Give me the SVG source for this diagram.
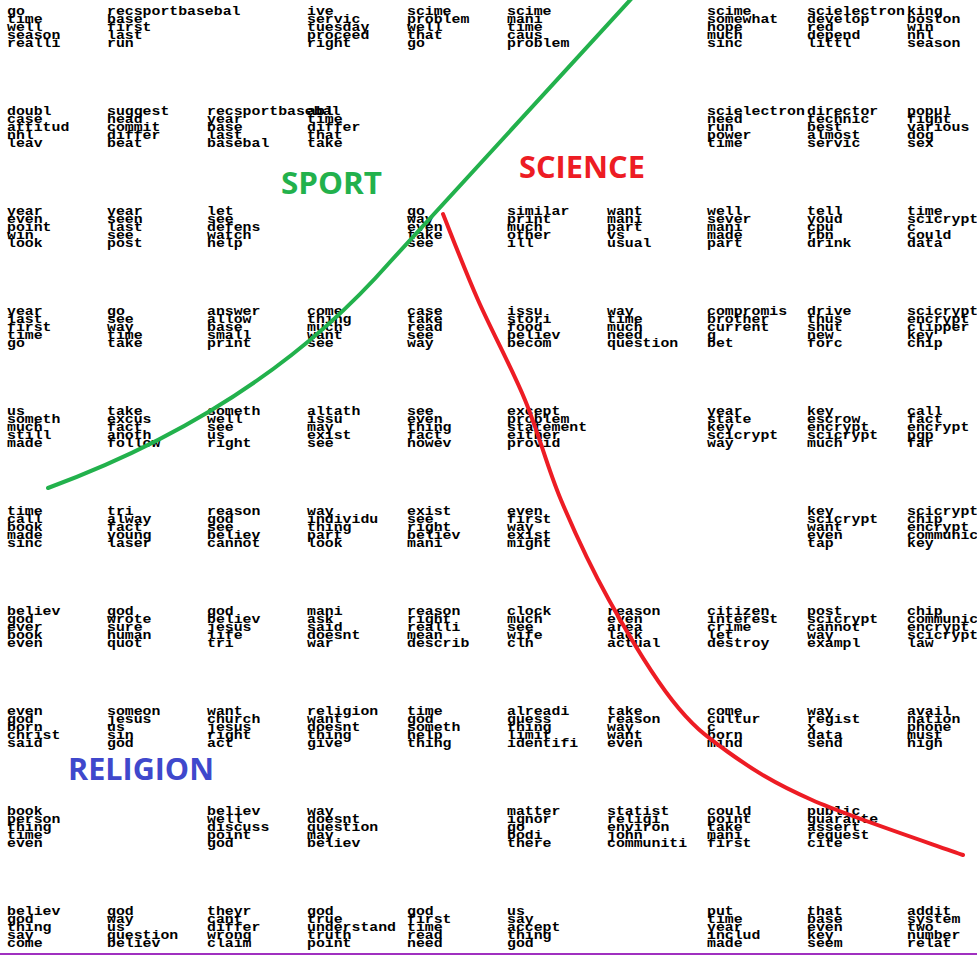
<svg xmlns="http://www.w3.org/2000/svg" width="977" height="957" viewBox="0 0 977 957">
<style>
.w{font-family:"Liberation Mono","Courier New",monospace;font-size:12px;font-weight:bold;fill:#000}
.lbl{font-family:"Open Sans","Noto Sans",sans-serif;font-weight:bold;font-size:30px}
</style>
<rect width="977" height="957" fill="#fff"/>
<g id="cells">
<g id="c0_0" transform="translate(7,15) scale(1.236,1)"><text class="w"><tspan x="0" y="0">go</tspan><tspan x="0" y="8">time</tspan><tspan x="0" y="16">well</tspan><tspan x="0" y="24">season</tspan><tspan x="0" y="32">realli</tspan></text></g>
<g id="c1_0" transform="translate(107,15) scale(1.236,1)"><text class="w"><tspan x="0" y="0">recsportbasebal</tspan><tspan x="0" y="8">base</tspan><tspan x="0" y="16">first</tspan><tspan x="0" y="24">last</tspan><tspan x="0" y="32">run</tspan></text></g>
<g id="c3_0" transform="translate(307,15) scale(1.236,1)"><text class="w"><tspan x="0" y="0">ive</tspan><tspan x="0" y="8">servic</tspan><tspan x="0" y="16">tuesday</tspan><tspan x="0" y="24">proceed</tspan><tspan x="0" y="32">right</tspan></text></g>
<g id="c4_0" transform="translate(407,15) scale(1.236,1)"><text class="w"><tspan x="0" y="0">scime</tspan><tspan x="0" y="8">problem</tspan><tspan x="0" y="16">well</tspan><tspan x="0" y="24">that</tspan><tspan x="0" y="32">go</tspan></text></g>
<g id="c5_0" transform="translate(507,15) scale(1.236,1)"><text class="w"><tspan x="0" y="0">scime</tspan><tspan x="0" y="8">mani</tspan><tspan x="0" y="16">time</tspan><tspan x="0" y="24">caus</tspan><tspan x="0" y="32">problem</tspan></text></g>
<g id="c7_0" transform="translate(707,15) scale(1.236,1)"><text class="w"><tspan x="0" y="0">scime</tspan><tspan x="0" y="8">somewhat</tspan><tspan x="0" y="16">hope</tspan><tspan x="0" y="24">much</tspan><tspan x="0" y="32">sinc</tspan></text></g>
<g id="c8_0" transform="translate(807,15) scale(1.236,1)"><text class="w"><tspan x="0" y="0">scielectron</tspan><tspan x="0" y="8">develop</tspan><tspan x="0" y="16">red</tspan><tspan x="0" y="24">depend</tspan><tspan x="0" y="32">littl</tspan></text></g>
<g id="c9_0" transform="translate(907,15) scale(1.236,1)"><text class="w"><tspan x="0" y="0">king</tspan><tspan x="0" y="8">boston</tspan><tspan x="0" y="16">win</tspan><tspan x="0" y="24">nhl</tspan><tspan x="0" y="32">season</tspan></text></g>

<g id="c0_1" transform="translate(7,115) scale(1.236,1)"><text class="w"><tspan x="0" y="0">doubl</tspan><tspan x="0" y="8">case</tspan><tspan x="0" y="16">attitud</tspan><tspan x="0" y="24">nhl</tspan><tspan x="0" y="32">leav</tspan></text></g>
<g id="c1_1" transform="translate(107,115) scale(1.236,1)"><text class="w"><tspan x="0" y="0">suggest</tspan><tspan x="0" y="8">head</tspan><tspan x="0" y="16">commit</tspan><tspan x="0" y="24">differ</tspan><tspan x="0" y="32">beat</tspan></text></g>
<g id="c2_1" transform="translate(207,115) scale(1.236,1)"><text class="w"><tspan x="0" y="0">recsportbasebal</tspan><tspan x="0" y="8">year</tspan><tspan x="0" y="16">base</tspan><tspan x="0" y="24">last</tspan><tspan x="0" y="32">basebal</tspan></text></g>
<g id="c3_1" transform="translate(307,115) scale(1.236,1)"><text class="w"><tspan x="0" y="0">abl</tspan><tspan x="0" y="8">time</tspan><tspan x="0" y="16">differ</tspan><tspan x="0" y="24">that</tspan><tspan x="0" y="32">take</tspan></text></g>
<g id="c7_1" transform="translate(707,115) scale(1.236,1)"><text class="w"><tspan x="0" y="0">scielectron</tspan><tspan x="0" y="8">need</tspan><tspan x="0" y="16">run</tspan><tspan x="0" y="24">power</tspan><tspan x="0" y="32">time</tspan></text></g>
<g id="c8_1" transform="translate(807,115) scale(1.236,1)"><text class="w"><tspan x="0" y="0">director</tspan><tspan x="0" y="8">technic</tspan><tspan x="0" y="16">best</tspan><tspan x="0" y="24">almost</tspan><tspan x="0" y="32">servic</tspan></text></g>
<g id="c9_1" transform="translate(907,115) scale(1.236,1)"><text class="w"><tspan x="0" y="0">popul</tspan><tspan x="0" y="8">fight</tspan><tspan x="0" y="16">various</tspan><tspan x="0" y="24">dog</tspan><tspan x="0" y="32">sex</tspan></text></g>

<g id="c0_2" transform="translate(7,215) scale(1.236,1)"><text class="w"><tspan x="0" y="0">year</tspan><tspan x="0" y="8">even</tspan><tspan x="0" y="16">point</tspan><tspan x="0" y="24">win</tspan><tspan x="0" y="32">look</tspan></text></g>
<g id="c1_2" transform="translate(107,215) scale(1.236,1)"><text class="w"><tspan x="0" y="0">year</tspan><tspan x="0" y="8">seen</tspan><tspan x="0" y="16">last</tspan><tspan x="0" y="24">see</tspan><tspan x="0" y="32">post</tspan></text></g>
<g id="c2_2" transform="translate(207,215) scale(1.236,1)"><text class="w"><tspan x="0" y="0">let</tspan><tspan x="0" y="8">see</tspan><tspan x="0" y="16">defens</tspan><tspan x="0" y="24">watch</tspan><tspan x="0" y="32">help</tspan></text></g>
<g id="c4_2" transform="translate(407,215) scale(1.236,1)"><text class="w"><tspan x="0" y="0">go</tspan><tspan x="0" y="8">way</tspan><tspan x="0" y="16">even</tspan><tspan x="0" y="24">take</tspan><tspan x="0" y="32">see</tspan></text></g>
<g id="c5_2" transform="translate(507,215) scale(1.236,1)"><text class="w"><tspan x="0" y="0">similar</tspan><tspan x="0" y="8">print</tspan><tspan x="0" y="16">much</tspan><tspan x="0" y="24">other</tspan><tspan x="0" y="32">ill</tspan></text></g>
<g id="c6_2" transform="translate(607,215) scale(1.236,1)"><text class="w"><tspan x="0" y="0">want</tspan><tspan x="0" y="8">mani</tspan><tspan x="0" y="16">part</tspan><tspan x="0" y="24">vs</tspan><tspan x="0" y="32">usual</tspan></text></g>
<g id="c7_2" transform="translate(707,215) scale(1.236,1)"><text class="w"><tspan x="0" y="0">well</tspan><tspan x="0" y="8">sever</tspan><tspan x="0" y="16">mani</tspan><tspan x="0" y="24">made</tspan><tspan x="0" y="32">part</tspan></text></g>
<g id="c8_2" transform="translate(807,215) scale(1.236,1)"><text class="w"><tspan x="0" y="0">tell</tspan><tspan x="0" y="8">youd</tspan><tspan x="0" y="16">cpu</tspan><tspan x="0" y="24">rbn</tspan><tspan x="0" y="32">drink</tspan></text></g>
<g id="c9_2" transform="translate(907,215) scale(1.236,1)"><text class="w"><tspan x="0" y="0">time</tspan><tspan x="0" y="8">scicrypt</tspan><tspan x="0" y="16">c</tspan><tspan x="0" y="24">could</tspan><tspan x="0" y="32">data</tspan></text></g>

<g id="c0_3" transform="translate(7,315) scale(1.236,1)"><text class="w"><tspan x="0" y="0">year</tspan><tspan x="0" y="8">last</tspan><tspan x="0" y="16">first</tspan><tspan x="0" y="24">time</tspan><tspan x="0" y="32">go</tspan></text></g>
<g id="c1_3" transform="translate(107,315) scale(1.236,1)"><text class="w"><tspan x="0" y="0">go</tspan><tspan x="0" y="8">see</tspan><tspan x="0" y="16">way</tspan><tspan x="0" y="24">time</tspan><tspan x="0" y="32">take</tspan></text></g>
<g id="c2_3" transform="translate(207,315) scale(1.236,1)"><text class="w"><tspan x="0" y="0">answer</tspan><tspan x="0" y="8">allow</tspan><tspan x="0" y="16">base</tspan><tspan x="0" y="24">small</tspan><tspan x="0" y="32">print</tspan></text></g>
<g id="c3_3" transform="translate(307,315) scale(1.236,1)"><text class="w"><tspan x="0" y="0">come</tspan><tspan x="0" y="8">thing</tspan><tspan x="0" y="16">much</tspan><tspan x="0" y="24">want</tspan><tspan x="0" y="32">see</tspan></text></g>
<g id="c4_3" transform="translate(407,315) scale(1.236,1)"><text class="w"><tspan x="0" y="0">case</tspan><tspan x="0" y="8">take</tspan><tspan x="0" y="16">read</tspan><tspan x="0" y="24">see</tspan><tspan x="0" y="32">way</tspan></text></g>
<g id="c5_3" transform="translate(507,315) scale(1.236,1)"><text class="w"><tspan x="0" y="0">issu</tspan><tspan x="0" y="8">stori</tspan><tspan x="0" y="16">food</tspan><tspan x="0" y="24">believ</tspan><tspan x="0" y="32">becom</tspan></text></g>
<g id="c6_3" transform="translate(607,315) scale(1.236,1)"><text class="w"><tspan x="0" y="0">way</tspan><tspan x="0" y="8">time</tspan><tspan x="0" y="16">much</tspan><tspan x="0" y="24">need</tspan><tspan x="0" y="32">question</tspan></text></g>
<g id="c7_3" transform="translate(707,315) scale(1.236,1)"><text class="w"><tspan x="0" y="0">compromis</tspan><tspan x="0" y="8">brother</tspan><tspan x="0" y="16">current</tspan><tspan x="0" y="24">g</tspan><tspan x="0" y="32">bet</tspan></text></g>
<g id="c8_3" transform="translate(807,315) scale(1.236,1)"><text class="w"><tspan x="0" y="0">drive</tspan><tspan x="0" y="8">thus</tspan><tspan x="0" y="16">shut</tspan><tspan x="0" y="24">new</tspan><tspan x="0" y="32">forc</tspan></text></g>
<g id="c9_3" transform="translate(907,315) scale(1.236,1)"><text class="w"><tspan x="0" y="0">scicrypt</tspan><tspan x="0" y="8">encrypt</tspan><tspan x="0" y="16">clipper</tspan><tspan x="0" y="24">key</tspan><tspan x="0" y="32">chip</tspan></text></g>

<g id="c0_4" transform="translate(7,415) scale(1.236,1)"><text class="w"><tspan x="0" y="0">us</tspan><tspan x="0" y="8">someth</tspan><tspan x="0" y="16">much</tspan><tspan x="0" y="24">still</tspan><tspan x="0" y="32">made</tspan></text></g>
<g id="c1_4" transform="translate(107,415) scale(1.236,1)"><text class="w"><tspan x="0" y="0">take</tspan><tspan x="0" y="8">excus</tspan><tspan x="0" y="16">fact</tspan><tspan x="0" y="24">anoth</tspan><tspan x="0" y="32">follow</tspan></text></g>
<g id="c2_4" transform="translate(207,415) scale(1.236,1)"><text class="w"><tspan x="0" y="0">someth</tspan><tspan x="0" y="8">well</tspan><tspan x="0" y="16">see</tspan><tspan x="0" y="24">us</tspan><tspan x="0" y="32">right</tspan></text></g>
<g id="c3_4" transform="translate(307,415) scale(1.236,1)"><text class="w"><tspan x="0" y="0">altath</tspan><tspan x="0" y="8">issu</tspan><tspan x="0" y="16">may</tspan><tspan x="0" y="24">exist</tspan><tspan x="0" y="32">see</tspan></text></g>
<g id="c4_4" transform="translate(407,415) scale(1.236,1)"><text class="w"><tspan x="0" y="0">see</tspan><tspan x="0" y="8">even</tspan><tspan x="0" y="16">thing</tspan><tspan x="0" y="24">fact</tspan><tspan x="0" y="32">howev</tspan></text></g>
<g id="c5_4" transform="translate(507,415) scale(1.236,1)"><text class="w"><tspan x="0" y="0">except</tspan><tspan x="0" y="8">problem</tspan><tspan x="0" y="16">statement</tspan><tspan x="0" y="24">either</tspan><tspan x="0" y="32">provid</tspan></text></g>
<g id="c7_4" transform="translate(707,415) scale(1.236,1)"><text class="w"><tspan x="0" y="0">year</tspan><tspan x="0" y="8">state</tspan><tspan x="0" y="16">key</tspan><tspan x="0" y="24">scicrypt</tspan><tspan x="0" y="32">way</tspan></text></g>
<g id="c8_4" transform="translate(807,415) scale(1.236,1)"><text class="w"><tspan x="0" y="0">key</tspan><tspan x="0" y="8">escrow</tspan><tspan x="0" y="16">encrypt</tspan><tspan x="0" y="24">scicrypt</tspan><tspan x="0" y="32">much</tspan></text></g>
<g id="c9_4" transform="translate(907,415) scale(1.236,1)"><text class="w"><tspan x="0" y="0">call</tspan><tspan x="0" y="8">fact</tspan><tspan x="0" y="16">encrypt</tspan><tspan x="0" y="24">pgp</tspan><tspan x="0" y="32">far</tspan></text></g>

<g id="c0_5" transform="translate(7,515) scale(1.236,1)"><text class="w"><tspan x="0" y="0">time</tspan><tspan x="0" y="8">call</tspan><tspan x="0" y="16">book</tspan><tspan x="0" y="24">made</tspan><tspan x="0" y="32">sinc</tspan></text></g>
<g id="c1_5" transform="translate(107,515) scale(1.236,1)"><text class="w"><tspan x="0" y="0">tri</tspan><tspan x="0" y="8">alway</tspan><tspan x="0" y="16">fact</tspan><tspan x="0" y="24">young</tspan><tspan x="0" y="32">laser</tspan></text></g>
<g id="c2_5" transform="translate(207,515) scale(1.236,1)"><text class="w"><tspan x="0" y="0">reason</tspan><tspan x="0" y="8">god</tspan><tspan x="0" y="16">see</tspan><tspan x="0" y="24">believ</tspan><tspan x="0" y="32">cannot</tspan></text></g>
<g id="c3_5" transform="translate(307,515) scale(1.236,1)"><text class="w"><tspan x="0" y="0">way</tspan><tspan x="0" y="8">individu</tspan><tspan x="0" y="16">thing</tspan><tspan x="0" y="24">part</tspan><tspan x="0" y="32">look</tspan></text></g>
<g id="c4_5" transform="translate(407,515) scale(1.236,1)"><text class="w"><tspan x="0" y="0">exist</tspan><tspan x="0" y="8">see</tspan><tspan x="0" y="16">right</tspan><tspan x="0" y="24">believ</tspan><tspan x="0" y="32">mani</tspan></text></g>
<g id="c5_5" transform="translate(507,515) scale(1.236,1)"><text class="w"><tspan x="0" y="0">even</tspan><tspan x="0" y="8">first</tspan><tspan x="0" y="16">way</tspan><tspan x="0" y="24">exist</tspan><tspan x="0" y="32">might</tspan></text></g>
<g id="c8_5" transform="translate(807,515) scale(1.236,1)"><text class="w"><tspan x="0" y="0">key</tspan><tspan x="0" y="8">scicrypt</tspan><tspan x="0" y="16">want</tspan><tspan x="0" y="24">even</tspan><tspan x="0" y="32">tap</tspan></text></g>
<g id="c9_5" transform="translate(907,515) scale(1.236,1)"><text class="w"><tspan x="0" y="0">scicrypt</tspan><tspan x="0" y="8">chip</tspan><tspan x="0" y="16">encrypt</tspan><tspan x="0" y="24">communic</tspan><tspan x="0" y="32">key</tspan></text></g>

<g id="c0_6" transform="translate(7,615) scale(1.236,1)"><text class="w"><tspan x="0" y="0">believ</tspan><tspan x="0" y="8">god</tspan><tspan x="0" y="16">ever</tspan><tspan x="0" y="24">book</tspan><tspan x="0" y="32">even</tspan></text></g>
<g id="c1_6" transform="translate(107,615) scale(1.236,1)"><text class="w"><tspan x="0" y="0">god</tspan><tspan x="0" y="8">wrote</tspan><tspan x="0" y="16">sure</tspan><tspan x="0" y="24">human</tspan><tspan x="0" y="32">quot</tspan></text></g>
<g id="c2_6" transform="translate(207,615) scale(1.236,1)"><text class="w"><tspan x="0" y="0">god</tspan><tspan x="0" y="8">believ</tspan><tspan x="0" y="16">jesus</tspan><tspan x="0" y="24">life</tspan><tspan x="0" y="32">tri</tspan></text></g>
<g id="c3_6" transform="translate(307,615) scale(1.236,1)"><text class="w"><tspan x="0" y="0">mani</tspan><tspan x="0" y="8">ask</tspan><tspan x="0" y="16">said</tspan><tspan x="0" y="24">doesnt</tspan><tspan x="0" y="32">war</tspan></text></g>
<g id="c4_6" transform="translate(407,615) scale(1.236,1)"><text class="w"><tspan x="0" y="0">reason</tspan><tspan x="0" y="8">right</tspan><tspan x="0" y="16">realli</tspan><tspan x="0" y="24">mean</tspan><tspan x="0" y="32">describ</tspan></text></g>
<g id="c5_6" transform="translate(507,615) scale(1.236,1)"><text class="w"><tspan x="0" y="0">clock</tspan><tspan x="0" y="8">much</tspan><tspan x="0" y="16">see</tspan><tspan x="0" y="24">wife</tspan><tspan x="0" y="32">clh</tspan></text></g>
<g id="c6_6" transform="translate(607,615) scale(1.236,1)"><text class="w"><tspan x="0" y="0">reason</tspan><tspan x="0" y="8">even</tspan><tspan x="0" y="16">area</tspan><tspan x="0" y="24">lack</tspan><tspan x="0" y="32">actual</tspan></text></g>
<g id="c7_6" transform="translate(707,615) scale(1.236,1)"><text class="w"><tspan x="0" y="0">citizen</tspan><tspan x="0" y="8">interest</tspan><tspan x="0" y="16">crime</tspan><tspan x="0" y="24">let</tspan><tspan x="0" y="32">destroy</tspan></text></g>
<g id="c8_6" transform="translate(807,615) scale(1.236,1)"><text class="w"><tspan x="0" y="0">post</tspan><tspan x="0" y="8">scicrypt</tspan><tspan x="0" y="16">cannot</tspan><tspan x="0" y="24">way</tspan><tspan x="0" y="32">exampl</tspan></text></g>
<g id="c9_6" transform="translate(907,615) scale(1.236,1)"><text class="w"><tspan x="0" y="0">chip</tspan><tspan x="0" y="8">communic</tspan><tspan x="0" y="16">encrypt</tspan><tspan x="0" y="24">scicrypt</tspan><tspan x="0" y="32">law</tspan></text></g>

<g id="c0_7" transform="translate(7,715) scale(1.236,1)"><text class="w"><tspan x="0" y="0">even</tspan><tspan x="0" y="8">god</tspan><tspan x="0" y="16">born</tspan><tspan x="0" y="24">christ</tspan><tspan x="0" y="32">said</tspan></text></g>
<g id="c1_7" transform="translate(107,715) scale(1.236,1)"><text class="w"><tspan x="0" y="0">someon</tspan><tspan x="0" y="8">jesus</tspan><tspan x="0" y="16">us</tspan><tspan x="0" y="24">sin</tspan><tspan x="0" y="32">god</tspan></text></g>
<g id="c2_7" transform="translate(207,715) scale(1.236,1)"><text class="w"><tspan x="0" y="0">want</tspan><tspan x="0" y="8">church</tspan><tspan x="0" y="16">jesus</tspan><tspan x="0" y="24">right</tspan><tspan x="0" y="32">act</tspan></text></g>
<g id="c3_7" transform="translate(307,715) scale(1.236,1)"><text class="w"><tspan x="0" y="0">religion</tspan><tspan x="0" y="8">want</tspan><tspan x="0" y="16">doesnt</tspan><tspan x="0" y="24">thing</tspan><tspan x="0" y="32">give</tspan></text></g>
<g id="c4_7" transform="translate(407,715) scale(1.236,1)"><text class="w"><tspan x="0" y="0">time</tspan><tspan x="0" y="8">god</tspan><tspan x="0" y="16">someth</tspan><tspan x="0" y="24">help</tspan><tspan x="0" y="32">thing</tspan></text></g>
<g id="c5_7" transform="translate(507,715) scale(1.236,1)"><text class="w"><tspan x="0" y="0">alreadi</tspan><tspan x="0" y="8">guess</tspan><tspan x="0" y="16">thing</tspan><tspan x="0" y="24">limit</tspan><tspan x="0" y="32">identifi</tspan></text></g>
<g id="c6_7" transform="translate(607,715) scale(1.236,1)"><text class="w"><tspan x="0" y="0">take</tspan><tspan x="0" y="8">reason</tspan><tspan x="0" y="16">way</tspan><tspan x="0" y="24">want</tspan><tspan x="0" y="32">even</tspan></text></g>
<g id="c7_7" transform="translate(707,715) scale(1.236,1)"><text class="w"><tspan x="0" y="0">come</tspan><tspan x="0" y="8">cultur</tspan><tspan x="0" y="16">c</tspan><tspan x="0" y="24">born</tspan><tspan x="0" y="32">mind</tspan></text></g>
<g id="c8_7" transform="translate(807,715) scale(1.236,1)"><text class="w"><tspan x="0" y="0">way</tspan><tspan x="0" y="8">regist</tspan><tspan x="0" y="16">x</tspan><tspan x="0" y="24">data</tspan><tspan x="0" y="32">send</tspan></text></g>
<g id="c9_7" transform="translate(907,715) scale(1.236,1)"><text class="w"><tspan x="0" y="0">avail</tspan><tspan x="0" y="8">nation</tspan><tspan x="0" y="16">phone</tspan><tspan x="0" y="24">must</tspan><tspan x="0" y="32">high</tspan></text></g>

<g id="c0_8" transform="translate(7,815) scale(1.236,1)"><text class="w"><tspan x="0" y="0">book</tspan><tspan x="0" y="8">person</tspan><tspan x="0" y="16">thing</tspan><tspan x="0" y="24">time</tspan><tspan x="0" y="32">even</tspan></text></g>
<g id="c2_8" transform="translate(207,815) scale(1.236,1)"><text class="w"><tspan x="0" y="0">believ</tspan><tspan x="0" y="8">well</tspan><tspan x="0" y="16">discuss</tspan><tspan x="0" y="24">point</tspan><tspan x="0" y="32">god</tspan></text></g>
<g id="c3_8" transform="translate(307,815) scale(1.236,1)"><text class="w"><tspan x="0" y="0">way</tspan><tspan x="0" y="8">doesnt</tspan><tspan x="0" y="16">question</tspan><tspan x="0" y="24">may</tspan><tspan x="0" y="32">believ</tspan></text></g>
<g id="c5_8" transform="translate(507,815) scale(1.236,1)"><text class="w"><tspan x="0" y="0">matter</tspan><tspan x="0" y="8">ignor</tspan><tspan x="0" y="16">go</tspan><tspan x="0" y="24">bodi</tspan><tspan x="0" y="32">there</tspan></text></g>
<g id="c6_8" transform="translate(607,815) scale(1.236,1)"><text class="w"><tspan x="0" y="0">statist</tspan><tspan x="0" y="8">religi</tspan><tspan x="0" y="16">environ</tspan><tspan x="0" y="24">john</tspan><tspan x="0" y="32">communiti</tspan></text></g>
<g id="c7_8" transform="translate(707,815) scale(1.236,1)"><text class="w"><tspan x="0" y="0">could</tspan><tspan x="0" y="8">point</tspan><tspan x="0" y="16">take</tspan><tspan x="0" y="24">mani</tspan><tspan x="0" y="32">first</tspan></text></g>
<g id="c8_8" transform="translate(807,815) scale(1.236,1)"><text class="w"><tspan x="0" y="0">public</tspan><tspan x="0" y="8">guarante</tspan><tspan x="0" y="16">assert</tspan><tspan x="0" y="24">request</tspan><tspan x="0" y="32">cite</tspan></text></g>

<g id="c0_9" transform="translate(7,915) scale(1.236,1)"><text class="w"><tspan x="0" y="0">believ</tspan><tspan x="0" y="8">god</tspan><tspan x="0" y="16">thing</tspan><tspan x="0" y="24">say</tspan><tspan x="0" y="32">come</tspan></text></g>
<g id="c1_9" transform="translate(107,915) scale(1.236,1)"><text class="w"><tspan x="0" y="0">god</tspan><tspan x="0" y="8">way</tspan><tspan x="0" y="16">us</tspan><tspan x="0" y="24">question</tspan><tspan x="0" y="32">believ</tspan></text></g>
<g id="c2_9" transform="translate(207,915) scale(1.236,1)"><text class="w"><tspan x="0" y="0">theyr</tspan><tspan x="0" y="8">cant</tspan><tspan x="0" y="16">differ</tspan><tspan x="0" y="24">wrong</tspan><tspan x="0" y="32">claim</tspan></text></g>
<g id="c3_9" transform="translate(307,915) scale(1.236,1)"><text class="w"><tspan x="0" y="0">god</tspan><tspan x="0" y="8">true</tspan><tspan x="0" y="16">understand</tspan><tspan x="0" y="24">truth</tspan><tspan x="0" y="32">point</tspan></text></g>
<g id="c4_9" transform="translate(407,915) scale(1.236,1)"><text class="w"><tspan x="0" y="0">god</tspan><tspan x="0" y="8">first</tspan><tspan x="0" y="16">time</tspan><tspan x="0" y="24">read</tspan><tspan x="0" y="32">need</tspan></text></g>
<g id="c5_9" transform="translate(507,915) scale(1.236,1)"><text class="w"><tspan x="0" y="0">us</tspan><tspan x="0" y="8">say</tspan><tspan x="0" y="16">accept</tspan><tspan x="0" y="24">thing</tspan><tspan x="0" y="32">god</tspan></text></g>
<g id="c7_9" transform="translate(707,915) scale(1.236,1)"><text class="w"><tspan x="0" y="0">put</tspan><tspan x="0" y="8">time</tspan><tspan x="0" y="16">year</tspan><tspan x="0" y="24">includ</tspan><tspan x="0" y="32">made</tspan></text></g>
<g id="c8_9" transform="translate(807,915) scale(1.236,1)"><text class="w"><tspan x="0" y="0">that</tspan><tspan x="0" y="8">base</tspan><tspan x="0" y="16">even</tspan><tspan x="0" y="24">key</tspan><tspan x="0" y="32">seem</tspan></text></g>
<g id="c9_9" transform="translate(907,915) scale(1.236,1)"><text class="w"><tspan x="0" y="0">addit</tspan><tspan x="0" y="8">system</tspan><tspan x="0" y="16">two</tspan><tspan x="0" y="24">number</tspan><tspan x="0" y="32">relat</tspan></text></g>
</g>
<g id="connectors" fill="none" stroke-width="4" stroke-linecap="round" stroke-linejoin="round">
<path id="sport-border" stroke="#22b14c" d="M48,488 Q260,410 390,262 L632,-2"/>
<path id="science-border" stroke="#ed1c24" d="M443,214 C448.8,228.3 464.3,269 478,300 C491.7,331 511.2,366.7 525,400 C538.8,433.3 547,466.7 561,500 C575,533.3 590.5,566.7 609,600 C627.5,633.3 652.2,674.7 672,700 C691.8,725.3 704.7,735.3 728,752 C751.3,768.7 772.8,782.8 812,800 C851.2,817.2 937.8,845.8 963,855"/>
</g>
<g id="labels">
<text id="sport" class="lbl" x="281" y="194" fill="#22b14c" textLength="101" lengthAdjust="spacingAndGlyphs">SPORT</text>
<text id="science" class="lbl" x="519" y="178" fill="#ed1c24" textLength="126" lengthAdjust="spacingAndGlyphs">SCIENCE</text>
<text id="religion" class="lbl" x="68" y="780" fill="#3f48cc" textLength="146" lengthAdjust="spacingAndGlyphs">RELIGION</text>
</g>
<line id="bottom-rule" x1="0" y1="954" x2="977" y2="954" stroke="#a030c0" stroke-width="2"/>
</svg>
